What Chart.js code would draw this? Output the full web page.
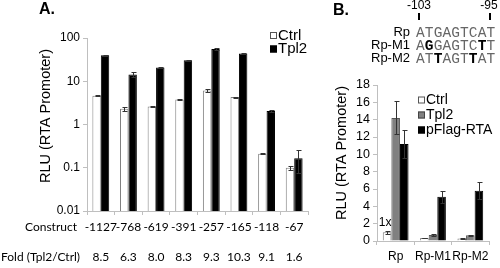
<!DOCTYPE html>
<html>
<head>
<meta charset="utf-8">
<script src="https://cdn.jsdelivr.net/npm/chart.js@4/dist/chart.umd.min.js"></script>
<style>
body { margin: 0; width: 500px; height: 268px; background: #fff; overflow: hidden; position: relative; }
#boxA { position: absolute; left: 0; top: 0; width: 320px; height: 268px; }
#boxB { position: absolute; left: 300px; top: 0; width: 200px; height: 268px; }
</style>
</head>
<body>
<div id="boxA"><canvas id="chartA"></canvas></div>
<div id="boxB"><canvas id="chartB"></canvas></div>
<script>
// Panel A: deletion constructs, log scale
const constructs = ['-1127', '-768', '-619', '-391', '-257', '-165', '-118', '-67'];
const ctrlA = [4.6, 2.3, 2.6, 3.8, 6.1, 4.3, 0.21, 0.10];
const tpl2A = [40, 14.3, 20.8, 30.5, 56, 44, 2.05, 0.165];
const ctrlAErr = [0.15, 0.25, 0.05, 0.08, 0.35, 0.1, 0.005, 0.01];
const tpl2AErr = [1.5, 1.8, 0.5, 1.2, 2.5, 0.5, 0.15, 0.09];
const foldA = ['8.5', '6.3', '8.0', '8.3', '9.3', '10.3', '9.1', '1.6'];
const logTicks = [0.01, 0.1, 1, 10, 100];

// Panel B: point mutants
const promoters = ['Rp', 'Rp-M1', 'Rp-M2'];
const ctrlB = [1.0, 0.35, 0.3];
const tpl2B = [14.2, 0.7, 0.65];
const rtaB = [11.2, 5.1, 5.8];
const ctrlBErr = [0.15, 0.05, 0.05];
const tpl2BErr = [1.9, 0.1, 0.05];
const rtaBErr = [1.6, 0.7, 1.0];
const linTicks = [0, 2, 4, 6, 8, 10, 12, 14, 16, 18];

// sequences shown above panel B
const seqNames = ['Rp', 'Rp-M1', 'Rp-M2'];
const seqs = ['ATGAGTCAT', 'AGGAGTCTT', 'ATTAGTTAT'];
const seqBold = [[], [1, 7], [2, 6]];

const axisGrey = '#bfbfbf';
const sans = '"Liberation Sans", Arial, sans-serif';

// draws +/- error bars from dataset.errors through the y scale
const errorBars = {
    id: 'errorBars',
    afterDatasetsDraw(chart) {
        const ctx = chart.ctx;
        const y = chart.scales.y;
        ctx.save();
        ctx.strokeStyle = '#333';
        ctx.lineWidth = 1;
        chart.data.datasets.forEach((ds, i) => {
            if (!ds.errors) return;
            chart.getDatasetMeta(i).data.forEach((bar, j) => {
                const v = ds.data[j], e = ds.errors[j];
                const top = Math.round(y.getPixelForValue(v + e)) + 0.5;
                const bot = Math.round(y.getPixelForValue(Math.max(v - e, y.min))) + 0.5;
                const x = Math.round(bar.x) + 0.5;
                ctx.beginPath();
                ctx.moveTo(x, top); ctx.lineTo(x, bot);
                ctx.moveTo(x - 2, top); ctx.lineTo(x + 3, top);
                ctx.moveTo(x - 2, bot); ctx.lineTo(x + 3, bot);
                ctx.stroke();
            });
        });
        ctx.restore();
    }
};

function legendItem(ctx, x, y, fill, stroke, text, size) {
    ctx.fillStyle = fill;
    ctx.fillRect(x, y - 3.5, 7, 7);
    ctx.strokeStyle = stroke;
    ctx.lineWidth = 1;
    ctx.strokeRect(x + 0.5, y - 3, 6, 6);
    ctx.fillStyle = '#000';
    ctx.font = size + 'px ' + sans;
    ctx.textAlign = 'left';
    ctx.fillText(text, x + 8, y);
}

function yTitle(ctx, x, y) {
    ctx.save();
    ctx.translate(x, y);
    ctx.rotate(-Math.PI / 2);
    ctx.font = '14.5px ' + sans;
    ctx.textAlign = 'center';
    ctx.fillStyle = '#000';
    ctx.fillText('RLU (RTA Promoter)', 0, 0);
    ctx.restore();
}

const textA = {
    id: 'textA',
    afterDraw(chart) {
        const ctx = chart.ctx, x = chart.scales.x;
        ctx.save();
        ctx.textBaseline = 'middle';
        ctx.fillStyle = '#000';
        ctx.font = 'bold 16px ' + sans;
        ctx.textAlign = 'left';
        ctx.fillText('A.', 39, 10);
        yTitle(ctx, 46, 116);
        legendItem(ctx, 270, 35.5, '#fff', '#555', 'Ctrl', 15);
        legendItem(ctx, 270, 49, '#000', '#000', 'Tpl2', 15);

        ctx.fillStyle = '#000';
        ctx.font = '12px Lato, sans-serif';
        ctx.textAlign = 'right';
        ctx.fillText('Construct', 77, 227);
        ctx.textAlign = 'left';
        ctx.fillText('Fold (Tpl2/Ctrl)', 1, 257);
        ctx.textAlign = 'center';
        constructs.forEach((c, i) => {
            const px = x.getPixelForValue(i);
            ctx.fillText(c, px, 227);
            ctx.fillText(foldA[i], px, 257);
        });
        ctx.restore();
    }
};

const textB = {
    id: 'textB',
    afterDraw(chart) {
        const ctx = chart.ctx, x = chart.scales.x, y = chart.scales.y;
        const off = 300;   // canvas starts at page x=300
        ctx.save();
        ctx.textBaseline = 'middle';
        ctx.fillStyle = '#000';
        ctx.font = 'bold 16px ' + sans;
        ctx.textAlign = 'left';
        ctx.fillText('B.', 333 - off, 11);

        // position markers
        ctx.font = '12px ' + sans;
        ctx.textAlign = 'center';
        ctx.fillText('-103', 419 - off, 6);
        ctx.fillText('-95', 489 - off, 6);
        ctx.fillRect(418 - off, 13, 2, 7);
        ctx.fillRect(489 - off, 13, 2, 7);

        // sequences
        const rowY = [32, 45, 58];
        const charW = 8.8;
        seqs.forEach((s, r) => {
            ctx.font = '13px ' + sans;
            ctx.textAlign = 'right';
            ctx.fillStyle = '#000';
            ctx.fillText(seqNames[r], 410 - off, rowY[r]);
            ctx.textAlign = 'center';
            for (let k = 0; k < s.length; k++) {
                const bold = seqBold[r].includes(k);
                ctx.font = (bold ? 'bold ' : '') + '14.5px "Liberation Mono", monospace';
                ctx.fillStyle = bold ? '#000' : '#666';
                ctx.fillText(s[k], 416 - off + charW * (k + 0.5), rowY[r] + 1);
            }
        });

        yTitle(ctx, 342 - off, 153);
        legendItem(ctx, 418 - off, 100, '#fff', '#555', 'Ctrl', 14);
        legendItem(ctx, 418 - off, 115, '#808080', '#444', 'Tpl2', 14);
        legendItem(ctx, 418 - off, 130, '#000', '#000', 'pFlag-RTA', 14);

        // "1x" over the Rp control bar
        const meta = chart.getDatasetMeta(0).data[0];
        ctx.font = '12px ' + sans;
        ctx.textAlign = 'center';
        ctx.fillStyle = '#000';
        ctx.fillText('1x', meta.x - 2, y.getPixelForValue(ctrlB[0] + ctrlBErr[0]) - 8);

        ctx.font = '12px ' + sans;
        promoters.forEach((p, i) => {
            ctx.fillText(p, x.getPixelForValue(i), 257);
        });
        ctx.restore();
    }
};

const tickFont = { family: sans, size: 12 };

new Chart(document.getElementById('chartA'), {
    type: 'bar',
    data: {
        labels: constructs,
        datasets: [
            { label: 'Ctrl', data: ctrlA, errors: ctrlAErr, backgroundColor: '#fff', borderColor: '#7f7f7f', borderWidth: 1 },
            { label: 'Tpl2', data: tpl2A, errors: tpl2AErr, backgroundColor: '#000', borderColor: '#000', borderWidth: 1 }
        ]
    },
    options: {
        responsive: true,
        maintainAspectRatio: false,
        animation: false,
        devicePixelRatio: 1,
        categoryPercentage: 0.61,
        barPercentage: 1,
        layout: { padding: { left: 0, top: 38, right: 12, bottom: 57 } },
        plugins: { legend: { display: false }, tooltip: { enabled: false } },
        scales: {
            x: {
                grid: { drawOnChartArea: false, tickLength: 4, color: axisGrey, offset: true },
                border: { color: axisGrey },
                ticks: { display: false },
                afterFit(s) { s.height = 0; }
            },
            y: {
                type: 'logarithmic',
                min: 0.01,
                max: 100,
                afterBuildTicks(s) { s.ticks = logTicks.map(v => ({ value: v, major: true })); },
                ticks: { callback: v => String(v), font: tickFont, color: '#000', padding: 3, autoSkip: false },
                grid: { drawOnChartArea: false, tickLength: 4, color: axisGrey },
                border: { color: axisGrey },
                afterFit(s) { s.width = 87; }
            }
        }
    },
    plugins: [errorBars, textA]
});

new Chart(document.getElementById('chartB'), {
    type: 'bar',
    data: {
        labels: promoters,
        datasets: [
            { label: 'Ctrl', data: ctrlB, errors: ctrlBErr, backgroundColor: '#fff', borderColor: '#7f7f7f', borderWidth: 1 },
            { label: 'Tpl2', data: tpl2B, errors: tpl2BErr, backgroundColor: '#808080', borderColor: '#555', borderWidth: 1 },
            { label: 'pFlag-RTA', data: rtaB, errors: rtaBErr, backgroundColor: '#000', borderColor: '#000', borderWidth: 1 }
        ]
    },
    options: {
        responsive: true,
        maintainAspectRatio: false,
        animation: false,
        devicePixelRatio: 1,
        categoryPercentage: 0.69,
        barPercentage: 1,
        layout: { padding: { left: 0, top: 85, right: 11, bottom: 27 } },
        plugins: { legend: { display: false }, tooltip: { enabled: false } },
        scales: {
            x: {
                grid: { drawOnChartArea: false, tickLength: 4, color: axisGrey, offset: true },
                border: { color: axisGrey },
                ticks: { display: false },
                afterFit(s) { s.height = 0; }
            },
            y: {
                min: 0,
                max: 18,
                afterBuildTicks(s) { s.ticks = linTicks.map(v => ({ value: v })); },
                ticks: { font: { family: sans, size: 12.5 }, color: '#000', padding: 3, autoSkip: false },
                grid: { drawOnChartArea: false, tickLength: 4, color: axisGrey },
                border: { color: axisGrey },
                afterFit(s) { s.width = 77; }
            }
        }
    },
    plugins: [errorBars, textB]
});
</script>
</body>
</html>
